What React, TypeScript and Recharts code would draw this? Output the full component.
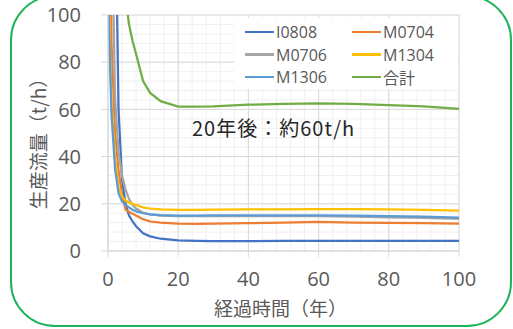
import React from "react";
import { LineChart, Line, XAxis, YAxis, CartesianGrid } from "recharts";

// years since start (x)
const years = [0, 1, 2, 3, 4, 5, 6, 7, 8, 10, 12, 15, 20, 25, 30, 40, 50, 60, 70, 80, 90, 100];

// production flow (t/h) per well
const i0808 = [null, 400, 160, 60, 30, 20, 15, 12.5, 10.5, 7.5, 6.2, 5.2, 4.5, 4.3, 4.2, 4.2, 4.3, 4.3, 4.3, 4.3, 4.3, 4.3];
const m0704 = [250, 88, 50, 34, 24, 17.5, 16.6, 15.8, 15, 13.5, 12.5, 12, 11.6, 11.5, 11.6, 11.8, 12, 12.3, 12, 11.9, 11.8, 11.6];
const m0706 = [null, 150, 65, 42, 32, 26, 22, 19.5, 18, 16.2, 15.5, 15, 14.8, 14.8, 14.8, 14.8, 14.8, 14.8, 14.6, 14.3, 14, 13.6];
const m1304 = [115, 62, 40, 27, 23, 21.5, 20.5, 20, 19.5, 18.5, 18, 17.6, 17.4, 17.4, 17.5, 17.6, 17.6, 17.7, 17.7, 17.6, 17.4, 17.1];
const m1306 = [110, 58, 35, 24.5, 21, 19.5, 18.5, 17.5, 16.8, 16, 15.5, 15.2, 15, 15, 15.1, 15.1, 15.1, 15.1, 15, 14.8, 14.6, 14.1];
const total = [null, 500, 300, 180, 125, 107, 96, 89, 83.5, 72, 67, 63.5, 61.2, 61.2, 61.3, 62, 62.3, 62.5, 62.3, 61.8, 61.3, 60.2];

const xTicks = [0, 20, 40, 60, 80, 100];
const yTicks = [0, 20, 40, 60, 80, 100];
const xMinor = Array.from({ length: 26 }, (_, i) => i * 4);
const yMinor = Array.from({ length: 26 }, (_, i) => i * 4);

const series = [
  { key: "I0808", values: i0808, color: "#4472C4" },
  { key: "M0704", values: m0704, color: "#ED7D31" },
  { key: "M0706", values: m0706, color: "#A5A5A5" },
  { key: "M1304", values: m1304, color: "#FFC000" },
  { key: "M1306", values: m1306, color: "#5B9BD5" },
  { key: "合計", values: total, color: "#70AD47" },
];

const data = years.map((t, i) => {
  const row: Record<string, number | null> = { t };
  series.forEach((s) => (row[s.key] = s.values[i]));
  return row;
});

const FONT = "'Noto Sans CJK JP', 'Noto Sans', sans-serif";
const NUM_FONT = "'Open Sans', 'Noto Sans CJK JP', sans-serif";

const YLabel = ({ viewBox }: any) => {
  const cy = viewBox.y + viewBox.height / 2 + 6;
  return (
    <text x={37} y={cy} transform={`rotate(-90, 37, ${cy})`} textAnchor="middle"
      dominantBaseline="central" fill="#595959" fontSize={19} fontFamily={FONT}>
      生産流量（t/h）
    </text>
  );
};

const XLabel = ({ viewBox }: any) => (
  <text x={viewBox.x + viewBox.width / 2 - 3} y={307} textAnchor="middle"
    dominantBaseline="central" fill="#595959" fontSize={19} fontFamily={FONT}>
    経過時間（年）
  </text>
);

// minor gridlines: domain is fixed at [0,100] on both axes
const minorV = ({ offset }: any) => xMinor.map((v) => offset.left + (offset.width * v) / 100);
const minorH = ({ offset }: any) => yMinor.map((v) => offset.top + offset.height * (1 - v / 100));

export default function App() {
  const tick = { fill: "#595959", fontSize: 20, fontFamily: NUM_FONT };
  return (
    <div style={{ position: "absolute", left: 0, top: 0, width: 513, height: 329, background: "#fff", overflow: "hidden" }}>
      <div style={{
        position: "absolute", left: 10, top: -5, width: 502, height: 332, boxSizing: "border-box",
        border: "2px solid #1FB35B", borderRadius: 45,
      }} />
      <LineChart width={513} height={329} data={data} margin={{ top: 15, right: 54, left: 0, bottom: 18 }}>
        <CartesianGrid stroke="#F0F0F0" horizontalCoordinatesGenerator={minorH} verticalCoordinatesGenerator={minorV} />
        <CartesianGrid stroke="#D9D9D9" />
        <XAxis dataKey="t" type="number" domain={[0, 100]} ticks={xTicks} allowDataOverflow
          height={60} tick={tick} tickSize={6} tickMargin={15}
          axisLine={{ stroke: "#D9D9D9" }} tickLine={{ stroke: "#D9D9D9" }} label={<XLabel />} />
        <YAxis type="number" domain={[0, 100]} ticks={yTicks} allowDataOverflow
          width={108} tick={tick} tickSize={7} tickMargin={20}
          axisLine={{ stroke: "#D9D9D9" }} tickLine={{ stroke: "#D9D9D9" }} label={<YLabel />} />
        {series.map((s) => (
          <Line key={s.key} type="linear" dataKey={s.key} stroke={s.color} strokeWidth={2.25}
            dot={false} isAnimationActive={false} connectNulls />
        ))}
      </LineChart>
      <div style={{
        position: "absolute", left: 234, top: 18, width: 224, height: 71, background: "#fff",
        fontFamily: NUM_FONT, fontSize: 16, color: "#595959",
      }}>
        {series.map((s, i) => {
          const col = i % 2;
          const row = Math.floor(i / 2);
          return (
            <div key={s.key} style={{
              position: "absolute", left: col === 0 ? 11 : 118, top: 14 + row * 22.5 - 11,
              height: 22, display: "flex", alignItems: "center",
            }}>
              <span style={{ display: "inline-block", width: 29, height: 2.5, background: s.color, marginRight: 2 }} />
              <span>{s.key}</span>
            </div>
          );
        })}
      </div>
      <div style={{
        position: "absolute", left: 192, top: 115, fontFamily: FONT, fontSize: 20, letterSpacing: 1,
        color: "#262626", lineHeight: "26px", whiteSpace: "nowrap",
      }}>
        20年後：約60t/h
      </div>
    </div>
  );
}
